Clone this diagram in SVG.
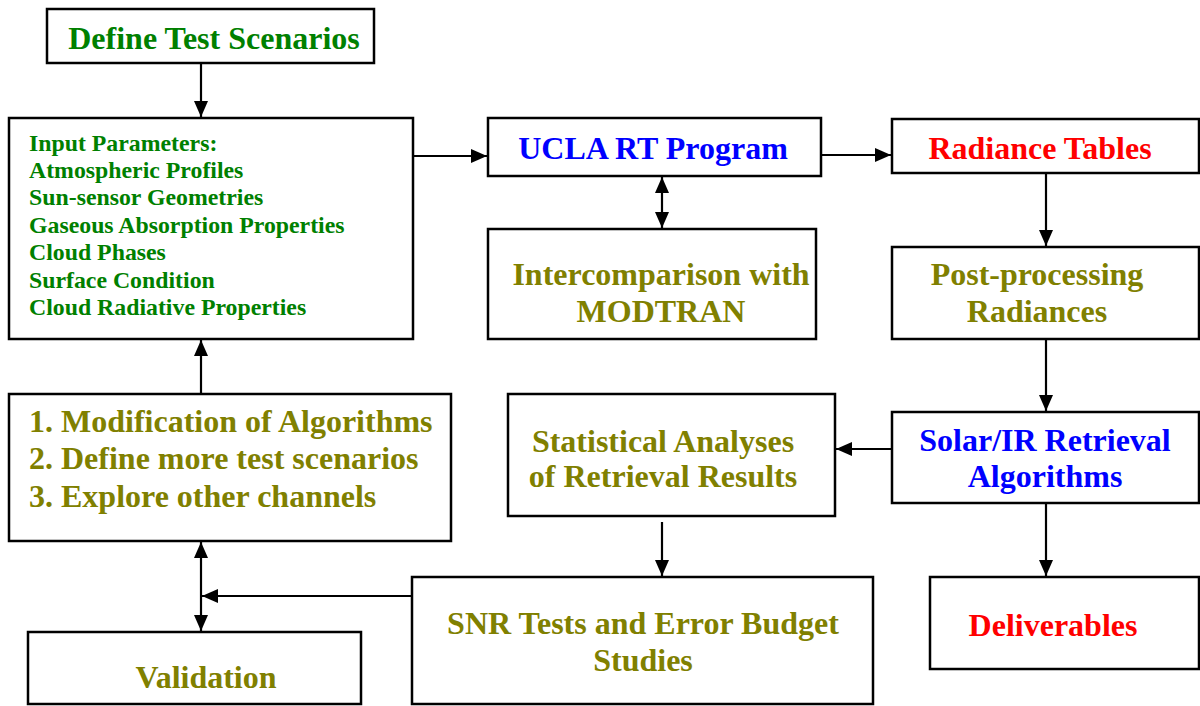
<svg xmlns="http://www.w3.org/2000/svg" width="1200" height="706" viewBox="0 0 1200 706">
<style>
.box{fill:#fff;stroke:#000;stroke-width:2.5}
.t{font-family:"Liberation Serif","Times New Roman",serif;font-weight:bold;font-size:32px}
.s{font-family:"Liberation Serif","Times New Roman",serif;font-weight:bold;font-size:23.8px;fill:#008000}
.g{fill:#008000}.b{fill:#0000ff}.r{fill:#ff0000}.o{fill:#808000}
.c{stroke:#000;stroke-width:2.2;fill:none}
</style>
<defs>
<marker id="ah" viewBox="0 0 16 14" refX="16" refY="7" markerWidth="16" markerHeight="14" markerUnits="userSpaceOnUse" orient="auto-start-reverse">
<path d="M0,0 L16,7 L0,14 Z" fill="#000"/>
</marker>
</defs>
<rect width="1200" height="706" fill="#fff"/>
<g id="connectors">
<line class="c" x1="201" y1="64" x2="201" y2="117" marker-end="url(#ah)"/>
<line class="c" x1="413" y1="156" x2="487" y2="156" marker-end="url(#ah)"/>
<line class="c" x1="815" y1="155" x2="891" y2="155" marker-end="url(#ah)"/>
<line class="c" x1="662" y1="177" x2="662" y2="228" marker-start="url(#ah)" marker-end="url(#ah)"/>
<line class="c" x1="1046" y1="173" x2="1046" y2="246" marker-end="url(#ah)"/>
<line class="c" x1="1046" y1="339" x2="1046" y2="411" marker-end="url(#ah)"/>
<line class="c" x1="1046" y1="503" x2="1046" y2="576" marker-end="url(#ah)"/>
<line class="c" x1="892" y1="449" x2="836" y2="449" marker-end="url(#ah)"/>
<line class="c" x1="662" y1="522" x2="662" y2="576" marker-end="url(#ah)"/>
<line class="c" x1="412" y1="596" x2="202" y2="596" marker-end="url(#ah)"/>
<line class="c" x1="201" y1="394" x2="201" y2="340" marker-end="url(#ah)"/>
<line class="c" x1="201" y1="542" x2="201" y2="631" marker-start="url(#ah)" marker-end="url(#ah)"/>
</g>
<g id="define">
<rect class="box" x="47" y="9" width="327" height="54"/>
<text class="t g" x="214" y="49" text-anchor="middle">Define Test Scenarios</text>
</g>
<g id="input">
<rect class="box" x="9" y="118" width="404" height="221"/>
<text class="s" x="29" y="151">Input Parameters:</text>
<text class="s" x="29" y="178">Atmospheric Profiles</text>
<text class="s" x="29" y="205">Sun-sensor Geometries</text>
<text class="s" x="29" y="233">Gaseous Absorption Properties</text>
<text class="s" x="29" y="260">Cloud Phases</text>
<text class="s" x="29" y="288">Surface Condition</text>
<text class="s" x="29" y="315">Cloud Radiative Properties</text>
</g>
<g id="ucla">
<rect class="box" x="488" y="118" width="333" height="58"/>
<text class="t b" x="653" y="159" text-anchor="middle">UCLA RT Program</text>
</g>
<g id="intercomparison">
<rect class="box" x="488" y="229" width="328" height="110"/>
<text class="t o" x="661" y="285" text-anchor="middle">Intercomparison with</text>
<text class="t o" x="661" y="322" text-anchor="middle">MODTRAN</text>
</g>
<g id="radiance">
<rect class="box" x="892" y="119" width="307" height="54"/>
<text class="t r" x="1040" y="159" text-anchor="middle">Radiance Tables</text>
</g>
<g id="postprocessing">
<rect class="box" x="892" y="247" width="307" height="92"/>
<text class="t o" x="1037" y="285" text-anchor="middle">Post-processing</text>
<text class="t o" x="1037" y="322" text-anchor="middle">Radiances</text>
</g>
<g id="solar">
<rect class="box" x="892" y="412" width="307" height="91"/>
<text class="t b" x="1045" y="451" text-anchor="middle">Solar/IR Retrieval</text>
<text class="t b" x="1045" y="487" text-anchor="middle">Algorithms</text>
</g>
<g id="deliverables">
<rect class="box" x="930" y="577" width="269" height="92"/>
<text class="t r" x="1053" y="636" text-anchor="middle">Deliverables</text>
</g>
<g id="statistical">
<rect class="box" x="508" y="394" width="327" height="122"/>
<text class="t o" x="663" y="452" text-anchor="middle">Statistical Analyses</text>
<text class="t o" x="663" y="487" text-anchor="middle">of Retrieval Results</text>
</g>
<g id="snr">
<rect class="box" x="412" y="577" width="461" height="127"/>
<text class="t o" x="643" y="634" text-anchor="middle">SNR Tests and Error Budget</text>
<text class="t o" x="643" y="671" text-anchor="middle">Studies</text>
</g>
<g id="modification">
<rect class="box" x="9" y="394" width="442" height="147"/>
<text class="t o" x="29" y="432">1. Modification of Algorithms</text>
<text class="t o" x="29" y="469">2. Define more test scenarios</text>
<text class="t o" x="29" y="507">3. Explore other channels</text>
</g>
<g id="validation">
<rect class="box" x="28" y="632" width="333" height="72"/>
<text class="t o" x="206" y="688" text-anchor="middle">Validation</text>
</g>
</svg>
